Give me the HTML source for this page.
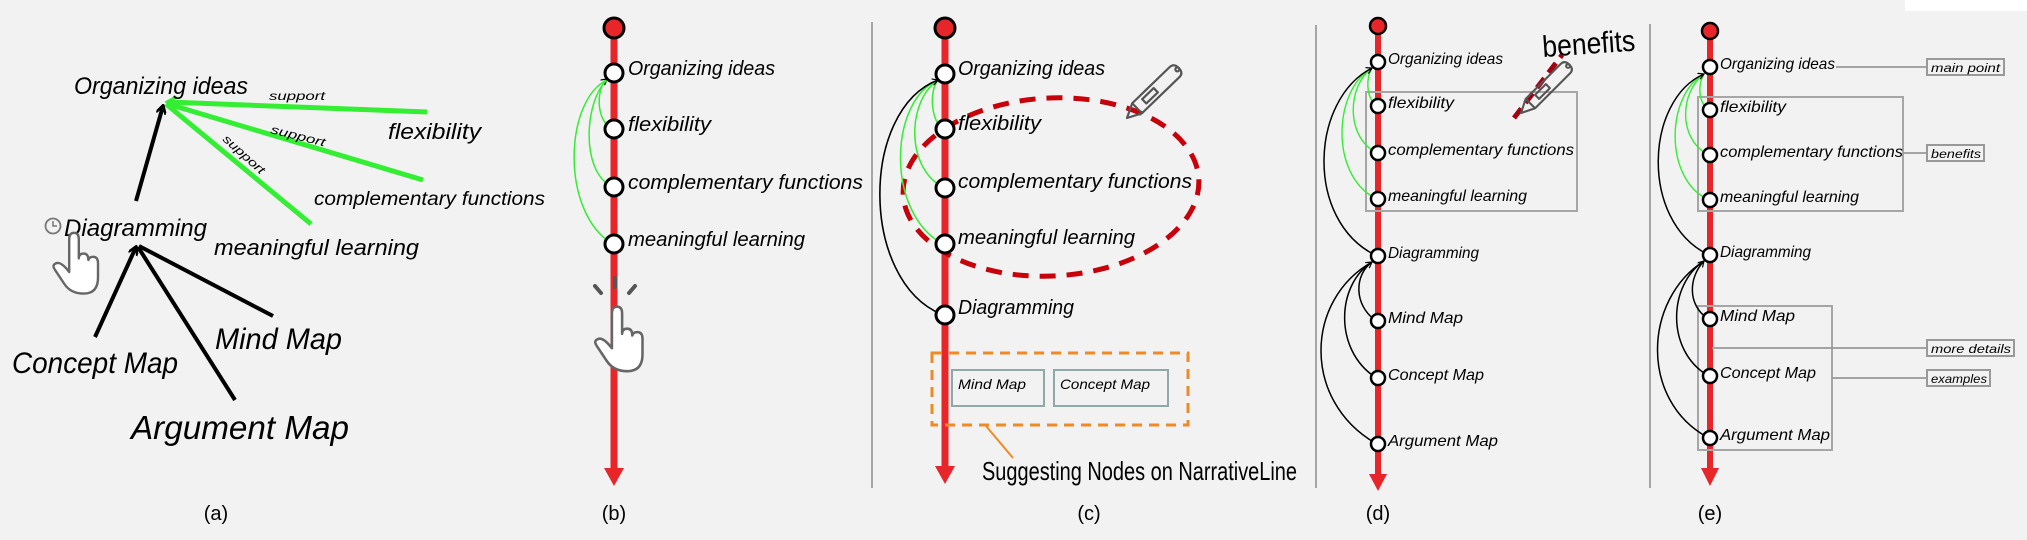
<!DOCTYPE html>
<html><head><meta charset="utf-8"><style>
html,body{margin:0;padding:0;background:#f2f2f2;}
svg{display:block;}
.h{font-family:"Liberation Sans",sans-serif;font-style:italic;fill:#000;}
.cap{font-family:"Liberation Sans Narrow","Liberation Sans",sans-serif;fill:#000;}
</style></head><body>
<svg width="2027" height="540" viewBox="0 0 2027 540" xmlns="http://www.w3.org/2000/svg">
<defs>
<marker id="ab" markerWidth="10" markerHeight="10" refX="8" refY="5" orient="auto" markerUnits="userSpaceOnUse"><path d="M0,0 L9,5 L0,10" fill="none" stroke="#000" stroke-width="2.5"/></marker>
<marker id="ag" markerWidth="12" markerHeight="12" refX="9" refY="6" orient="auto" markerUnits="userSpaceOnUse"><path d="M0,0 L10,6 L0,12" fill="none" stroke="#33ee33" stroke-width="3"/></marker>
<marker id="as" markerWidth="7" markerHeight="7" refX="6" refY="3.5" orient="auto" markerUnits="userSpaceOnUse"><path d="M0,0 L6,3.5 L0,7" fill="none" stroke="#000" stroke-width="1.2"/></marker>
<g id="hand"><path d="M -6 45 L -6 4 Q -6 -4 0 -4 Q 6 -4 6 4 L 6 28 Q 6 22 12 22 Q 18 22 18 30 Q 19 26 24 26 Q 30 26 30 34 L 30 52 Q 30 72 12 72 Q -4 72 -12 60 L -24 42 Q -28 36 -22 34 Q -16 32 -6 45 Z" fill="#fff" stroke="#666" stroke-width="3" stroke-linejoin="round"/></g>
<g id="pen" fill="none" stroke="#555" stroke-width="2.2" stroke-linejoin="round"><path d="M0 0 L14 -7 L14 7 Z"/><path d="M14 -7 L66 -7 Q72 -7 72 0 Q72 7 66 7 L14 7"/><rect x="24" y="-3" width="16" height="6"/><circle cx="70" cy="0" r="2"/></g>
</defs>
<rect width="2027" height="540" fill="#f2f2f2"/>
<rect x="1905" y="0" width="122" height="11" fill="#fff"/>

<!-- separators -->
<g stroke="#a6a6a6" stroke-width="2"><line x1="872" y1="22" x2="872" y2="488"/><line x1="1316" y1="25" x2="1316" y2="488"/><line x1="1650" y1="24" x2="1650" y2="488"/></g>

<!-- ===== (a) ===== -->
<g stroke="#33ee33" stroke-width="5" fill="none">
<line x1="427" y1="112" x2="168" y2="102" marker-end="url(#ag)"/>
<line x1="423" y1="180" x2="168" y2="104"/>
<line x1="311" y1="224" x2="166" y2="104"/>
</g>
<g stroke="#000" stroke-width="4" fill="none">
<line x1="136" y1="201" x2="163" y2="106" marker-end="url(#ab)"/>
<line x1="95" y1="337" x2="136" y2="247" marker-end="url(#ab)"/>
<line x1="235" y1="400" x2="138" y2="247"/>
<line x1="273" y1="316" x2="139" y2="246"/>
</g>
<text class="h" x="74" y="94" font-size="24" textLength="174" lengthAdjust="spacingAndGlyphs">Organizing ideas</text>
<text class="h" x="269" y="100" font-size="12" textLength="56" lengthAdjust="spacingAndGlyphs">support</text>
<text class="h" transform="translate(270,133) rotate(14)" font-size="12" textLength="56" lengthAdjust="spacingAndGlyphs">support</text>
<text class="h" transform="translate(222,140) rotate(42)" font-size="12" textLength="52" lengthAdjust="spacingAndGlyphs">support</text>
<text class="h" x="388" y="139" font-size="22" textLength="93" lengthAdjust="spacingAndGlyphs">flexibility</text>
<text class="h" x="314" y="205" font-size="19" textLength="231" lengthAdjust="spacingAndGlyphs">complementary functions</text>
<text class="h" x="214" y="255" font-size="22" textLength="205" lengthAdjust="spacingAndGlyphs">meaningful learning</text>
<text class="h" x="64" y="236" font-size="24" textLength="143" lengthAdjust="spacingAndGlyphs">Diagramming</text>
<circle cx="53" cy="226" r="7.5" fill="none" stroke="#777" stroke-width="1.8"/><path d="M53 221 V226 H57" fill="none" stroke="#777" stroke-width="1.5"/>
<use href="#hand" transform="translate(74,236) scale(0.8)"/>
<text class="h" x="12" y="373" font-size="30" textLength="166" lengthAdjust="spacingAndGlyphs">Concept Map</text>
<text class="h" x="215" y="349" font-size="30" textLength="127" lengthAdjust="spacingAndGlyphs">Mind Map</text>
<text class="h" x="131" y="439" font-size="33" textLength="218" lengthAdjust="spacingAndGlyphs">Argument Map</text>
<text class="cap" x="216" y="520" font-size="20" text-anchor="middle">(a)</text>

<!-- ===== (b) ===== -->
<line x1="614" y1="28" x2="614" y2="470" stroke="#e8262a" stroke-width="7"/>
<path d="M604 468 L624 468 L614 486 Z" fill="#e8262a"/>
<circle cx="614" cy="28" r="10" fill="#e8262a" stroke="#000" stroke-width="3"/>
<g fill="none" stroke="#33ee33" stroke-width="1.5">
<path d="M611 128 C596 120 596 88 607 79" marker-end="url(#as)"/>
<path d="M611 186 C580 170 585 100 607 80"/>
<path d="M611 243 C560 210 565 100 607 80"/>
</g>
<g fill="#fff" stroke="#000" stroke-width="3"><circle cx="614" cy="73" r="9"/><circle cx="614" cy="129" r="9"/><circle cx="614" cy="187" r="9"/><circle cx="614" cy="244" r="9"/></g>
<text class="h" x="628" y="75" font-size="20" textLength="147" lengthAdjust="spacingAndGlyphs">Organizing ideas</text>
<text class="h" x="628" y="131" font-size="20" textLength="83" lengthAdjust="spacingAndGlyphs">flexibility</text>
<text class="h" x="628" y="189" font-size="20" textLength="235" lengthAdjust="spacingAndGlyphs">complementary functions</text>
<text class="h" x="628" y="246" font-size="20" textLength="177" lengthAdjust="spacingAndGlyphs">meaningful learning</text>
<g stroke="#555" stroke-width="4" stroke-linecap="round"><line x1="615" y1="278" x2="615" y2="287"/><line x1="595" y1="286" x2="601" y2="293"/><line x1="635" y1="286" x2="629" y2="293"/></g>
<use href="#hand" transform="translate(617,310) scale(0.85)"/>
<text class="cap" x="614" y="520" font-size="20" text-anchor="middle">(b)</text>

<!-- ===== (c) ===== -->
<line x1="945" y1="28" x2="945" y2="468" stroke="#e8262a" stroke-width="7"/>
<path d="M935 466 L955 466 L945 484 Z" fill="#e8262a"/>
<circle cx="945" cy="28" r="10" fill="#e8262a" stroke="#000" stroke-width="3"/>
<ellipse cx="1051" cy="187" rx="148" ry="89" fill="none" stroke="#c8000a" stroke-width="5" stroke-dasharray="16 11" transform="rotate(-3 1051 187)"/>
<g fill="none" stroke="#33ee33" stroke-width="1.5">
<path d="M941 128 C930 115 930 90 938 80"/>
<path d="M941 186 C905 165 908 100 938 80"/>
<path d="M941 243 C885 210 890 100 938 80"/>
</g>
<path d="M941 314 C860 280 860 110 938 80" fill="none" stroke="#000" stroke-width="1.6" marker-end="url(#as)"/>
<g fill="#fff" stroke="#000" stroke-width="3"><circle cx="945" cy="74" r="9"/><circle cx="945" cy="129" r="9"/><circle cx="945" cy="188" r="9"/><circle cx="945" cy="244" r="9"/><circle cx="945" cy="315" r="9"/></g>
<text class="h" x="958" y="75" font-size="20" textLength="147" lengthAdjust="spacingAndGlyphs">Organizing ideas</text>
<text class="h" x="958" y="130" font-size="20" textLength="83" lengthAdjust="spacingAndGlyphs">flexibility</text>
<text class="h" x="958" y="188" font-size="20" textLength="234" lengthAdjust="spacingAndGlyphs">complementary functions</text>
<text class="h" x="958" y="244" font-size="20" textLength="177" lengthAdjust="spacingAndGlyphs">meaningful learning</text>
<text class="h" x="958" y="314" font-size="20" textLength="116" lengthAdjust="spacingAndGlyphs">Diagramming</text>
<use href="#pen" transform="translate(1127,118) rotate(-44)"/>
<rect x="932" y="353" width="256" height="72" fill="none" stroke="#f08a24" stroke-width="3" stroke-dasharray="10 7"/>
<rect x="952" y="370" width="92" height="36" fill="#f2f2f2" stroke="#8fa8a8" stroke-width="2"/>
<rect x="1054" y="370" width="114" height="36" fill="#f2f2f2" stroke="#8fa8a8" stroke-width="2"/>
<text class="h" x="958" y="389" font-size="14" textLength="68" lengthAdjust="spacingAndGlyphs">Mind Map</text>
<text class="h" x="1060" y="389" font-size="14" textLength="90" lengthAdjust="spacingAndGlyphs">Concept Map</text>
<line x1="986" y1="426" x2="1013" y2="458" stroke="#f08a24" stroke-width="2"/>
<text class="cap" x="982" y="480" font-size="26" textLength="315" lengthAdjust="spacingAndGlyphs">Suggesting Nodes on NarrativeLine</text>
<text class="cap" x="1089" y="520" font-size="20" text-anchor="middle">(c)</text>

<!-- ===== (d) ===== -->
<line x1="1378" y1="26" x2="1378" y2="476" stroke="#e8262a" stroke-width="6"/>
<path d="M1369 474 L1387 474 L1378 491 Z" fill="#e8262a"/>
<circle cx="1378" cy="26" r="8" fill="#e8262a" stroke="#000" stroke-width="2.5"/>
<rect x="1366" y="92" width="211" height="119" fill="none" stroke="#a6a6a6" stroke-width="2"/>
<g fill="none" stroke="#33ee33" stroke-width="1.4">
<path d="M1375 105 C1366 95 1366 78 1372 68"/>
<path d="M1375 152 C1345 135 1348 85 1372 68"/>
<path d="M1375 198 C1330 175 1333 90 1372 68"/>
</g>
<g fill="none" stroke="#000" stroke-width="1.5">
<path d="M1375 255 C1305 220 1310 100 1372 68" marker-end="url(#as)"/>
<path d="M1375 320 C1354 305 1354 275 1372 262" marker-end="url(#as)"/>
<path d="M1375 377 C1334 350 1336 285 1372 262"/>
<path d="M1375 443 C1302 400 1305 300 1372 262"/>
</g>
<g fill="#fff" stroke="#000" stroke-width="2.5"><circle cx="1378" cy="62" r="7"/><circle cx="1378" cy="106" r="7"/><circle cx="1378" cy="153" r="7"/><circle cx="1378" cy="199" r="7"/><circle cx="1378" cy="256" r="7"/><circle cx="1378" cy="321" r="7"/><circle cx="1378" cy="378" r="7"/><circle cx="1378" cy="444" r="7"/></g>
<text class="h" x="1388" y="64" font-size="16" textLength="115" lengthAdjust="spacingAndGlyphs">Organizing ideas</text>
<text class="h" x="1388" y="108" font-size="16" textLength="66" lengthAdjust="spacingAndGlyphs">flexibility</text>
<text class="h" x="1388" y="155" font-size="16" textLength="186" lengthAdjust="spacingAndGlyphs">complementary functions</text>
<text class="h" x="1388" y="201" font-size="16" textLength="139" lengthAdjust="spacingAndGlyphs">meaningful learning</text>
<text class="h" x="1388" y="258" font-size="16" textLength="91" lengthAdjust="spacingAndGlyphs">Diagramming</text>
<text class="h" x="1388" y="323" font-size="16" textLength="75" lengthAdjust="spacingAndGlyphs">Mind Map</text>
<text class="h" x="1388" y="380" font-size="16" textLength="96" lengthAdjust="spacingAndGlyphs">Concept Map</text>
<text class="h" x="1388" y="446" font-size="16" textLength="110" lengthAdjust="spacingAndGlyphs">Argument Map</text>
<line x1="1514" y1="118" x2="1562" y2="55" stroke="#a00010" stroke-width="5" stroke-dasharray="12 7"/>
<use href="#pen" transform="translate(1521,113) rotate(-45) scale(0.95)"/>
<text x="1543" y="57" font-family="'Liberation Sans',sans-serif" font-size="30" textLength="93" lengthAdjust="spacingAndGlyphs" fill="#000" transform="rotate(-4 1543 57)">benefits</text>
<text class="cap" x="1378" y="520" font-size="20" text-anchor="middle">(d)</text>

<!-- ===== (e) ===== -->
<line x1="1710" y1="31" x2="1710" y2="470" stroke="#e8262a" stroke-width="6"/>
<path d="M1701 468 L1719 468 L1710 486 Z" fill="#e8262a"/>
<circle cx="1710" cy="31" r="8" fill="#e8262a" stroke="#000" stroke-width="2.5"/>
<rect x="1698" y="97" width="205" height="114" fill="none" stroke="#a6a6a6" stroke-width="2"/>
<rect x="1698" y="306" width="134" height="144" fill="none" stroke="#a6a6a6" stroke-width="2"/>
<g stroke="#999" stroke-width="1.8" fill="none">
<line x1="1836" y1="67" x2="1927" y2="67"/>
<line x1="1903" y1="153" x2="1927" y2="153"/>
<line x1="1712" y1="348" x2="1927" y2="348"/>
<line x1="1832" y1="378" x2="1927" y2="378"/>
</g>
<g fill="#f2f2f2" stroke="#999" stroke-width="2">
<rect x="1927" y="59" width="77" height="16"/><rect x="1927" y="145" width="57" height="16"/><rect x="1927" y="340" width="87" height="16"/><rect x="1927" y="370" width="63" height="16"/>
</g>
<text class="h" x="1931" y="72" font-size="12" textLength="69" lengthAdjust="spacingAndGlyphs">main point</text>
<text class="h" x="1931" y="158" font-size="12" textLength="50" lengthAdjust="spacingAndGlyphs">benefits</text>
<text class="h" x="1931" y="353" font-size="12" textLength="80" lengthAdjust="spacingAndGlyphs">more details</text>
<text class="h" x="1931" y="383" font-size="12" textLength="56" lengthAdjust="spacingAndGlyphs">examples</text>
<g fill="none" stroke="#33ee33" stroke-width="1.4">
<path d="M1707 109 C1698 100 1698 84 1704 74"/>
<path d="M1707 154 C1678 138 1680 92 1704 74"/>
<path d="M1707 199 C1664 178 1666 95 1704 74"/>
</g>
<g fill="none" stroke="#000" stroke-width="1.5">
<path d="M1707 254 C1640 220 1645 100 1704 74" marker-end="url(#as)"/>
<path d="M1707 318 C1688 305 1688 278 1704 261" marker-end="url(#as)"/>
<path d="M1707 375 C1666 350 1668 285 1704 261"/>
<path d="M1707 437 C1640 400 1643 300 1704 261"/>
</g>
<g fill="#fff" stroke="#000" stroke-width="2.5"><circle cx="1710" cy="67" r="7"/><circle cx="1710" cy="110" r="7"/><circle cx="1710" cy="155" r="7"/><circle cx="1710" cy="200" r="7"/><circle cx="1710" cy="255" r="7"/><circle cx="1710" cy="319" r="7"/><circle cx="1710" cy="376" r="7"/><circle cx="1710" cy="438" r="7"/></g>
<text class="h" x="1720" y="69" font-size="16" textLength="115" lengthAdjust="spacingAndGlyphs">Organizing ideas</text>
<text class="h" x="1720" y="112" font-size="16" textLength="66" lengthAdjust="spacingAndGlyphs">flexibility</text>
<text class="h" x="1720" y="157" font-size="16" textLength="183" lengthAdjust="spacingAndGlyphs">complementary functions</text>
<text class="h" x="1720" y="202" font-size="16" textLength="139" lengthAdjust="spacingAndGlyphs">meaningful learning</text>
<text class="h" x="1720" y="257" font-size="16" textLength="91" lengthAdjust="spacingAndGlyphs">Diagramming</text>
<text class="h" x="1720" y="321" font-size="16" textLength="75" lengthAdjust="spacingAndGlyphs">Mind Map</text>
<text class="h" x="1720" y="378" font-size="16" textLength="96" lengthAdjust="spacingAndGlyphs">Concept Map</text>
<text class="h" x="1720" y="440" font-size="16" textLength="110" lengthAdjust="spacingAndGlyphs">Argument Map</text>
<text class="cap" x="1710" y="520" font-size="20" text-anchor="middle">(e)</text>
</svg>
</body></html>
